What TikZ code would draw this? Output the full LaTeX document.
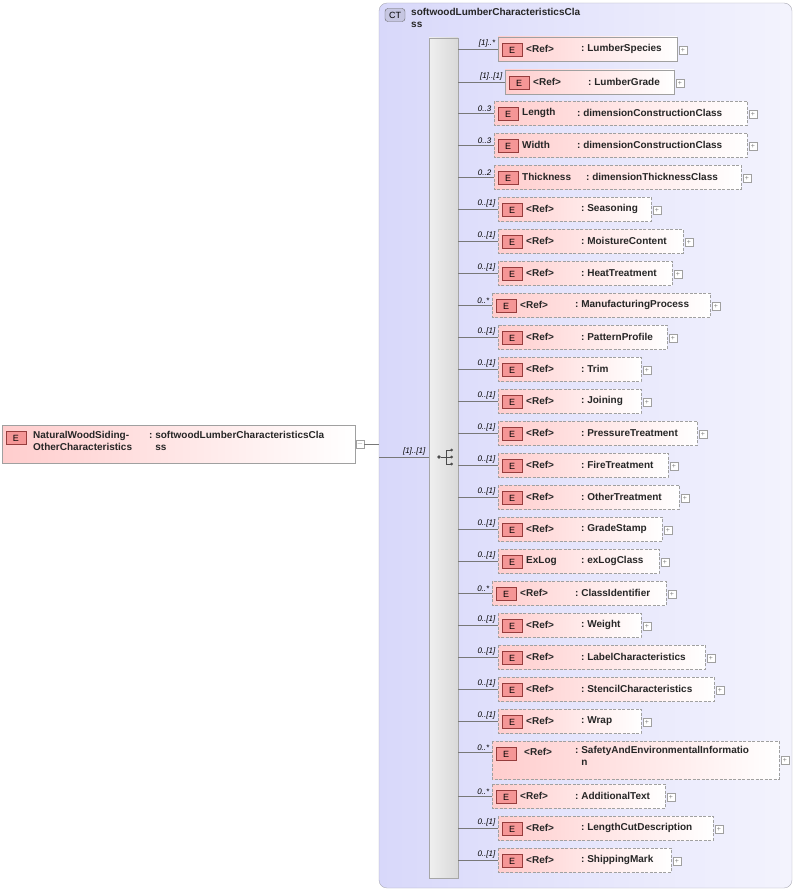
\documentclass[tikz,border=0pt]{standalone}
\usepackage{fontspec}
\setmainfont{Liberation Sans}
\usetikzlibrary{positioning}
\definecolor{ctfill}{RGB}{216,216,250}
\definecolor{ctborder}{RGB}{170,170,180}
\definecolor{elpink}{RGB}{255,205,205}
\definecolor{iconfill}{RGB}{245,150,150}
\definecolor{iconborder}{RGB}{150,60,60}
\definecolor{boxborder}{RGB}{160,160,160}
\definecolor{linegray}{RGB}{120,120,120}
\tikzset{
  elbox/.style={draw=boxborder,left color=elpink,right color=white},
  optbox/.style={elbox,dash pattern=on 3pt off 1.5pt},
  ebadge/.style={draw=iconborder,fill=iconfill,minimum width=20pt,minimum height=13pt,inner sep=0pt,font=\fontsize{9}{10}\selectfont},
  txt/.style={anchor=west,inner sep=0pt,font=\fontsize{10}{12}\selectfont\bfseries,text=black!85},
  card/.style={anchor=south east,inner sep=0.5pt,font=\fontsize{8}{9}\selectfont\itshape},
  plusbox/.style={draw=boxborder,fill=white,minimum size=8pt,inner sep=0pt,font=\fontsize{7}{7}\selectfont,text=gray},
  conn/.style={draw=linegray,line width=0.4pt}
}
\begin{document}
\begin{tikzpicture}[x=1pt,y=-1pt]
\useasboundingbox (0,0) rectangle (797,891);

% complex type container
\draw [draw=ctborder,left color=ctfill,right color=ctfill!30!white,rounded corners=8pt] (379,3) rectangle (792,888);
\node [draw=gray!80!black,fill=ctfill!80!gray,rounded corners=3pt,minimum width=20pt,minimum height=13pt,inner sep=0pt,font=\fontsize{9}{10}\selectfont] (ctbadge) at (395,15) {CT};
\node [txt,anchor=north west,align=left] (ctname) at (411,8) {softwoodLumberCharacteristicsCla\\ss};

% sequence bar
\draw [draw=gray!70,left color=gray!12,right color=gray!30] (429,38) rectangle (458,878);
\coordinate (seqin) at (429,457);
% sequence icon
\node [circle,fill=black!70,inner sep=1.3pt] (seqdot) at (439,457) {};
\draw [black!70,line width=0.6pt] (seqdot) -- (446,457) (446,450) -- (446,464) (446,450) -- (451,450) (446,457) -- (451,457) (446,464) -- (451,464);
\foreach \yy in {450,457,464} \fill [black!70] (451.5,\yy) circle (1.5pt);

% root element
\draw [elbox] (2,425) rectangle (355,463);
\node [ebadge] (rootE) at (16,438) {E};
\node [txt,align=left,anchor=north west] (rootname) at (33,431) {NaturalWoodSiding-\\OtherCharacteristics};
\node [txt,align=left,anchor=north west] (roottype) at (149,431) {:\ softwoodLumberCharacteristicsCla\\\phantom{:\ }ss};
\node [plusbox] (rootplus) at (360,444) {$-$};
\coordinate (ctin) at (379,444);
\draw [conn] (rootplus) -- (ctin);
\draw [conn] (379,457) -- (seqin);
\node [card] at (426,456) {[1]..[1]};

% child elements: y / left / right / name / type column / type / cardinality / dashed
\foreach \y/\xa/\xb/\nm/\tx/\ty/\cd/\op [count=\i] in {
 49/498/677/\textless Ref\textgreater/581/LumberSpecies/{[1]..*}/0,
 82/505/674/\textless Ref\textgreater/588/LumberGrade/{[1]..[1]}/0,
 113/494/747/Length/577/dimensionConstructionClass/{0..3}/1,
 145/494/747/Width/577/dimensionConstructionClass/{0..3}/1,
 177/494/741/Thickness/586/dimensionThicknessClass/{0..2}/1,
 209/498/651/\textless Ref\textgreater/581/Seasoning/{0..[1]}/1,
 241/498/683/\textless Ref\textgreater/581/MoistureContent/{0..[1]}/1,
 273/498/672/\textless Ref\textgreater/581/HeatTreatment/{0..[1]}/1,
 305/492/710/\textless Ref\textgreater/575/ManufacturingProcess/{0..*}/1,
 337/498/667/\textless Ref\textgreater/581/PatternProfile/{0..[1]}/1,
 369/498/641/\textless Ref\textgreater/581/Trim/{0..[1]}/1,
 401/498/641/\textless Ref\textgreater/581/Joining/{0..[1]}/1,
 433/498/697/\textless Ref\textgreater/581/PressureTreatment/{0..[1]}/1,
 465/498/668/\textless Ref\textgreater/581/FireTreatment/{0..[1]}/1,
 497/498/679/\textless Ref\textgreater/581/OtherTreatment/{0..[1]}/1,
 529/498/662/\textless Ref\textgreater/581/GradeStamp/{0..[1]}/1,
 561/498/659/ExLog/581/exLogClass/{0..[1]}/1,
 593/492/666/\textless Ref\textgreater/575/ClassIdentifier/{0..*}/1,
 625/498/641/\textless Ref\textgreater/581/Weight/{0..[1]}/1,
 657/498/705/\textless Ref\textgreater/581/LabelCharacteristics/{0..[1]}/1,
 689/498/714/\textless Ref\textgreater/581/StencilCharacteristics/{0..[1]}/1,
 721/498/641/\textless Ref\textgreater/581/Wrap/{0..[1]}/1,
 796/492/665/\textless Ref\textgreater/575/AdditionalText/{0..*}/1,
 828/498/713/\textless Ref\textgreater/581/LengthCutDescription/{0..[1]}/1,
 860/498/671/\textless Ref\textgreater/581/ShippingMark/{0..[1]}/1}
{
  \ifnum\op=1 \tikzset{bx/.style={optbox}}\else\tikzset{bx/.style={elbox}}\fi
  \draw [bx] (\xa,\y-12) rectangle (\xb,\y+12);
  \node [ebadge] (e\i) at (\xa+14,\y+1) {E};
  \node [txt] (n\i) at (\xa+28,\y) {\nm};
  \node [txt] (t\i) at (\tx,\y) {:\ \ty};
  \node [plusbox] (p\i) at (\xb+6,\y+1) {+};
  \coordinate (in\i) at (\xa,\y);
  \draw [conn] (458,\y) -- (in\i);
  \node [card] at (\xa-2,\y-1) {\cd};
}

% two-line element
\draw [optbox] (492,741) rectangle (779,779);
\node [ebadge] (eSafe) at (506,754) {E};
\node [txt] (nSafe) at (524,752) {\textless Ref\textgreater};
\node [txt,align=left,anchor=north west] (tSafe) at (575,746) {:\ SafetyAndEnvironmentalInformatio\\\phantom{:\ }n};
\node [plusbox] (pSafe) at (785,760) {+};
\coordinate (inSafe) at (492,752);
\draw [conn] (458,752) -- (inSafe);
\node [card] at (490,751) {0..*};
\end{tikzpicture}
\end{document}
